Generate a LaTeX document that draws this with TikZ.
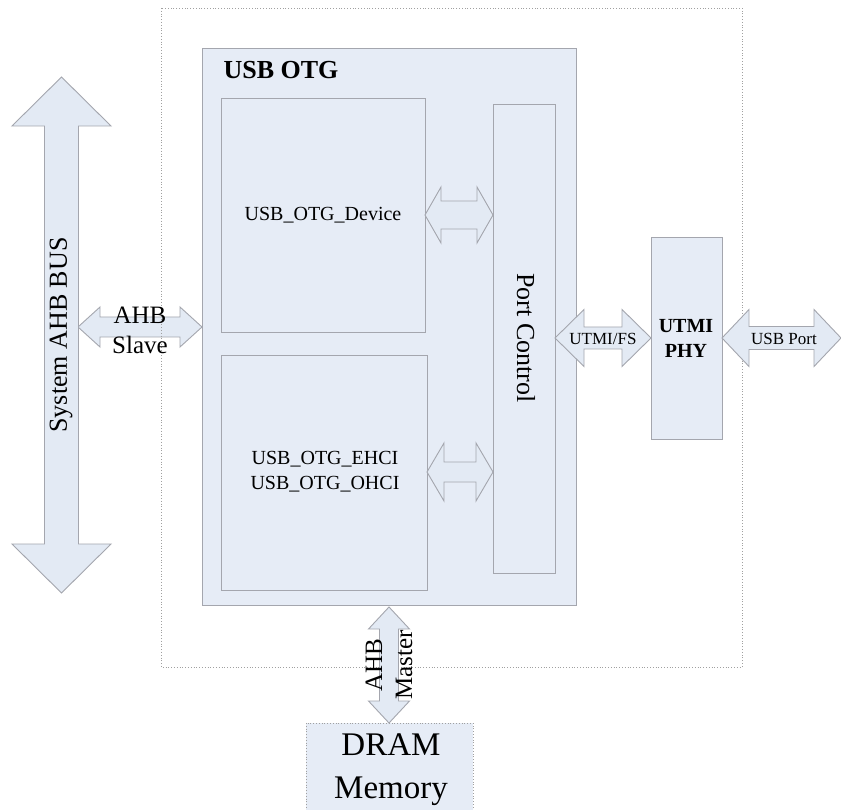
\documentclass[tikz,border=0pt]{standalone}
\usepackage{fontspec}
\setmainfont{Liberation Serif}
\definecolor{boxfill}{HTML}{E6ECF6}
\definecolor{arrfill}{HTML}{E3EAF4}
\definecolor{edge}{HTML}{A4A6AE}
\definecolor{dotc}{HTML}{A0A0A0}
\tikzset{
  blk/.style={draw=edge, fill=boxfill, line width=0.9pt},
  arr/.style={draw=edge, fill=arrfill, line width=0.9pt, line join=miter},
  dotbox/.style={draw=dotc, dotted, line width=0.8pt},
}
\newcommand\dblH[6]{% x1 x2 yc headhalf shafthalf headlen
  \draw[arr] (#1,#3) -- (#1+#6,#3-#4) -- (#1+#6,#3-#5) -- (#2-#6,#3-#5) -- (#2-#6,#3-#4) -- (#2,#3) -- (#2-#6,#3+#4) -- (#2-#6,#3+#5) -- (#1+#6,#3+#5) -- (#1+#6,#3+#4) -- cycle;}
\newcommand\dblV[6]{% y1 y2 xc headhalf shafthalf headlen
  \draw[arr] (#3,#1) -- (#3-#4,#1+#6) -- (#3-#5,#1+#6) -- (#3-#5,#2-#6) -- (#3-#4,#2-#6) -- (#3,#2) -- (#3+#4,#2-#6) -- (#3+#5,#2-#6) -- (#3+#5,#1+#6) -- (#3+#4,#1+#6) -- cycle;}
\begin{document}
\begin{tikzpicture}[x=1pt,y=-1pt]
\path[use as bounding box] (0,0) rectangle (841,810);
\clip (0,0) rectangle (841,810);
\fill[white] (0,0) rectangle (841,810);
% AHB slave arrow (behind dotted frame)
\dblH{78}{202}{327}{20}{10}{22}
% outer dotted frame
\draw[dotbox] (161,8) rectangle (742,667);
% USB OTG block
\draw[blk] (202,48) rectangle (576,605);
\node[font=\fontsize{26}{28}\selectfont\bfseries, anchor=west] (otgt) at (220,70) {USB OTG};
\draw[blk] (221,98) rectangle (425,332);
\node[font=\fontsize{20}{24}\selectfont] (dev) at (323,215) {USB\_OTG\_Device};
\draw[blk] (221,355) rectangle (427,590);
\node[font=\fontsize{20}{25}\selectfont, align=center] (ehci) at (325,472) {USB\_OTG\_EHCI\\USB\_OTG\_OHCI};
\draw[blk] (493,104) rectangle (555,573);
\node[font=\fontsize{26}{28}\selectfont, rotate=-90] (pc) at (526,338) {Port Control};
% UTMI PHY
\draw[blk] (651,237) rectangle (722,439);
\node[font=\fontsize{20}{25}\selectfont\bfseries, align=center] (phy) at (686,338) {UTMI\\PHY};
% DRAM
\draw[dotbox, fill=boxfill] (306,723) rectangle (473,840);
\node[font=\fontsize{33}{43}\selectfont, align=center] (dram) at (391,770) {DRAM\\Memory};
% inner arrows
\dblH{425}{493}{215}{28}{14}{16}
\dblH{427}{493}{472}{29}{10}{17}
\dblH{555}{651}{338}{28.5}{11}{29}
\dblH{722}{841}{338}{28.5}{11.5}{27}
% system bus
\dblV{77}{593}{61.5}{49.5}{17}{49}
\dblV{607}{723}{389}{20.5}{9.5}{22}
% labels
\node[font=\fontsize{26}{28}\selectfont, rotate=90] (sys) at (61,335) {System AHB BUS};
\node[font=\fontsize{25}{30}\selectfont, align=center] (slv) at (140,330) {AHB\\Slave};
\node[font=\fontsize{17}{20}\selectfont] (fs) at (603,339) {UTMI/FS};
\node[font=\fontsize{17}{20}\selectfont] (usbp) at (784,339) {USB Port};
\node[font=\fontsize{25}{28}\selectfont, rotate=90] (ahbm1) at (374,665) {AHB};
\node[font=\fontsize{25}{28}\selectfont, rotate=90] (ahbm2) at (404,665) {Master};
\end{tikzpicture}
\end{document}
